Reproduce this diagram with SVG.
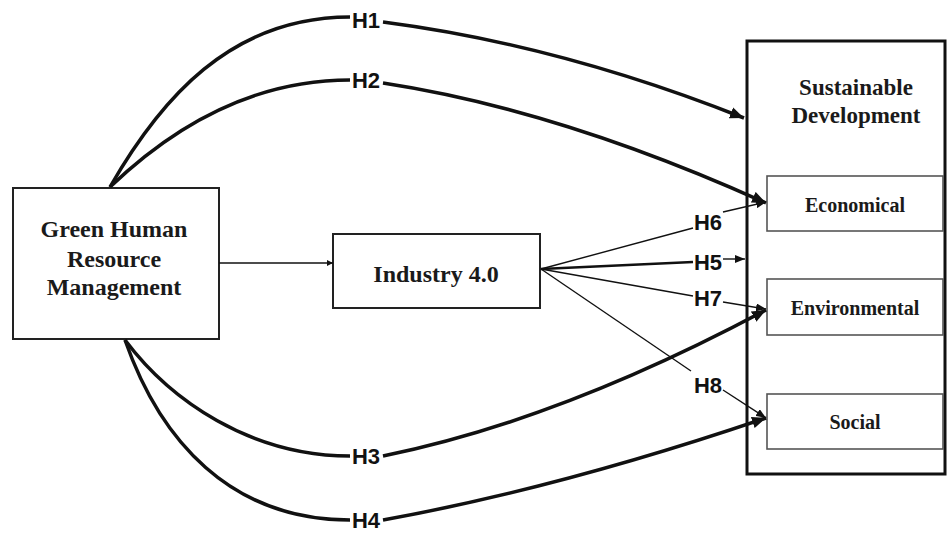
<svg xmlns="http://www.w3.org/2000/svg" width="950" height="533" viewBox="0 0 950 533">
<defs>
<style>
.box{fill:#fff;stroke:#222;stroke-width:2}
.sub{fill:#fff;stroke:#555;stroke-width:1.6}
.big{fill:none;stroke:#111;stroke-width:3}
.t{font-family:"Liberation Serif","Times New Roman",serif;font-weight:bold;fill:#1a1a1a;text-anchor:middle}
.h{font-family:"Liberation Sans",Arial,sans-serif;font-weight:bold;font-size:22px;fill:#111;text-anchor:middle}
.thick{fill:none;stroke:#111;stroke-width:3.5}
.mid{fill:none;stroke:#111;stroke-width:2.6}
.thin{fill:none;stroke:#111;stroke-width:1.4}
</style>
<marker id="ah" viewBox="0 0 12 10" markerWidth="14" markerHeight="12" refX="12" refY="5" orient="auto" markerUnits="userSpaceOnUse">
<path d="M0,0 L12,5 L0,10 z" fill="#111"/>
</marker>
<marker id="as" viewBox="0 0 10 8" markerWidth="10" markerHeight="8" refX="10" refY="4" orient="auto" markerUnits="userSpaceOnUse">
<path d="M0,0 L10,4 L0,8 z" fill="#111"/>
</marker>
<marker id="at" viewBox="0 0 6 6" markerWidth="6" markerHeight="6" refX="6" refY="3" orient="auto" markerUnits="userSpaceOnUse">
<path d="M0,0 L6,3 L0,6 z" fill="#111"/>
</marker>
</defs>
<rect width="950" height="533" fill="#fff"/>

<g id="sustainable-development">
<rect class="big" x="747" y="41" width="198" height="433"/>
<text class="t" font-size="23" x="856" y="95">Sustainable</text>
<text class="t" font-size="23" x="856" y="123">Development</text>
</g>
<g id="economical">
<rect class="sub" x="767" y="176" width="176" height="55"/>
<text class="t" font-size="20" x="855" y="212">Economical</text>
</g>
<g id="environmental">
<rect class="sub" x="767" y="279" width="176" height="56"/>
<text class="t" font-size="20" x="855" y="315">Environmental</text>
</g>
<g id="social">
<rect class="sub" x="767" y="394" width="176" height="55"/>
<text class="t" font-size="20" x="855" y="429">Social</text>
</g>
<g id="ghrm">
<rect class="box" x="13" y="188" width="206" height="151"/>
<text class="t" font-size="24" x="114" y="237">Green Human</text>
<text class="t" font-size="24" x="114" y="267">Resource</text>
<text class="t" font-size="24" x="114" y="295">Management</text>
</g>
<g id="industry">
<rect class="box" x="333" y="234" width="207" height="74"/>
<text class="t" font-size="24" x="436" y="282">Industry 4.0</text>
</g>

<g id="connectors">
<path class="thin" d="M219,263 L333,263" marker-end="url(#at)"/>
<path class="thick" d="M110,187 C160,100 230,17 350,17"/>
<path class="thick" d="M383,22 Q560,45 744,118" marker-end="url(#ah)"/>
<path class="thick" d="M110,187 C180,120 260,80 350,80"/>
<path class="thick" d="M383,83 Q560,110 766,203" marker-end="url(#ah)"/>
<path class="thick" d="M125,340 C170,400 250,456 350,456"/>
<path class="thick" d="M383,456 Q560,420 766,310" marker-end="url(#ah)"/>
<path class="thick" d="M125,340 C160,440 230,520 350,520"/>
<path class="thick" d="M383,520 Q560,488 766,418" marker-end="url(#ah)"/>
<path class="thin" d="M541,269 L693,228"/>
<path class="thin" d="M723,212 L766,202" marker-end="url(#as)"/>
<path class="mid" d="M541,269 L693,262"/>
<path class="thin" d="M723,259 L745,259" marker-end="url(#as)"/>
<path class="thin" d="M541,269 L693,296"/>
<path class="thin" d="M723,302 L766,309" marker-end="url(#as)"/>
<path class="thin" d="M541,269 L691,371"/>
<path class="thin" d="M723,390 L766,418" marker-end="url(#as)"/>
<text class="h" x="366" y="28">H1</text>
<text class="h" x="366" y="88">H2</text>
<text class="h" x="366" y="464">H3</text>
<text class="h" x="366" y="528">H4</text>
<text class="h" x="708" y="230">H6</text>
<text class="h" x="708" y="270">H5</text>
<text class="h" x="708" y="306">H7</text>
<text class="h" x="708" y="393">H8</text>
</g>
</svg>
